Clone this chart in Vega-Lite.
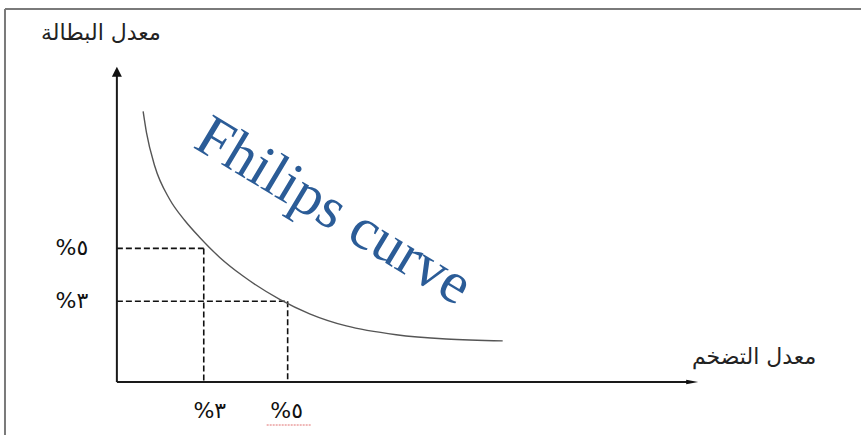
{
  "$schema": "https://vega.github.io/schema/vega-lite/v6.json",
  "width": 862,
  "height": 436,
  "autosize": {"type": "fit", "contains": "padding"},
  "padding": 0,
  "background": "white",
  "config": {"view": {"stroke": null}},
  "datasets": {
    "border": [
      {"x": -1.738, "y": 14.057, "x2": 18.667, "y2": 14.057},
      {"x": -1.738, "y": 14.057, "x2": -1.738, "y2": -2.057}
    ],
    "axes": [
      {"x": 0.929, "y": -0.057, "x2": 0.929, "y2": 11.57},
      {"x": 0.929, "y": -0.057, "x2": 14.60, "y2": -0.057}
    ],
    "dashes": [
      {"x": 0.929, "y": 5, "x2": 3, "y2": 5},
      {"x": 3, "y": 5, "x2": 3, "y2": -0.057},
      {"x": 0.929, "y": 3, "x2": 5, "y2": 3},
      {"x": 5, "y": 3, "x2": 5, "y2": -0.057}
    ],
    "squiggle": [
      {"x": 4.5, "y": -1.679, "x2": 5.571, "y2": -1.679}
    ],
    "curve": [
      {"inflation": 1.555, "unemployment": 10.181},
      {"inflation": 1.636, "unemployment": 9.366},
      {"inflation": 1.833, "unemployment": 8.106},
      {"inflation": 2.190, "unemployment": 6.849},
      {"inflation": 2.548, "unemployment": 6.057},
      {"inflation": 2.905, "unemployment": 5.415},
      {"inflation": 3.381, "unemployment": 4.660},
      {"inflation": 3.936, "unemployment": 3.955},
      {"inflation": 4.810, "unemployment": 3.075},
      {"inflation": 5.524, "unemployment": 2.528},
      {"inflation": 6.398, "unemployment": 2.068},
      {"inflation": 7.588, "unemployment": 1.736},
      {"inflation": 8.779, "unemployment": 1.574},
      {"inflation": 10.126, "unemployment": 1.502}
    ],
    "arrowUp": [{"x": 0.929, "y": 11.679}],
    "arrowRight": [{"x": 14.643, "y": -0.057}],
    "labels": [
      {"x": -0.143, "y": 5, "text": "%٥"},
      {"x": -0.143, "y": 3, "text": "%٣"},
      {"x": 3.143, "y": -1.151, "text": "%٣"},
      {"x": 4.976, "y": -1.151, "text": "%٥"}
    ],
    "titles": [
      {"x": 0.548, "y": 13.151, "text": "معدل البطالة"},
      {"x": 16.119, "y": 0.887, "text": "معدل التضخم"}
    ],
    "curveLabel": [{"x": 5.88, "y": 5.83, "text": "Fhilips curve"}]
  },
  "layer": [
    {
      "data": {"name": "border"},
      "mark": {"type": "rule", "stroke": "#7a7a7a", "strokeWidth": 2},
      "encoding": {
        "x": {"field": "x", "type": "quantitative", "scale": {"domain": [-1.857, 18.667], "nice": false, "zero": false}, "axis": null},
        "y": {"field": "y", "type": "quantitative", "scale": {"domain": [-2.057, 14.396], "nice": false, "zero": false}, "axis": null},
        "x2": {"field": "x2"},
        "y2": {"field": "y2"}
      }
    },
    {
      "data": {"name": "dashes"},
      "mark": {"type": "rule", "stroke": "#111111", "strokeWidth": 1.6, "strokeDash": [6, 3]},
      "encoding": {
        "x": {"field": "x", "type": "quantitative"},
        "y": {"field": "y", "type": "quantitative"},
        "x2": {"field": "x2"},
        "y2": {"field": "y2"}
      }
    },
    {
      "data": {"name": "squiggle"},
      "mark": {"type": "rule", "stroke": "#e07070", "strokeWidth": 1, "strokeDash": [2, 1]},
      "encoding": {
        "x": {"field": "x", "type": "quantitative"},
        "y": {"field": "y", "type": "quantitative"},
        "x2": {"field": "x2"},
        "y2": {"field": "y2"}
      }
    },
    {
      "data": {"name": "axes"},
      "mark": {"type": "rule", "stroke": "#1a1a1a", "strokeWidth": 2},
      "encoding": {
        "x": {"field": "x", "type": "quantitative"},
        "y": {"field": "y", "type": "quantitative"},
        "x2": {"field": "x2"},
        "y2": {"field": "y2"}
      }
    },
    {
      "data": {"name": "arrowUp"},
      "mark": {"type": "point", "shape": "M -1 1 L 0 -1 L 1 1 Z", "size": 100, "filled": true, "color": "#111111", "opacity": 1},
      "encoding": {
        "x": {"field": "x", "type": "quantitative"},
        "y": {"field": "y", "type": "quantitative"}
      }
    },
    {
      "data": {"name": "arrowRight"},
      "mark": {"type": "point", "shape": "M -1 -0.375 L 1 0 L -1 0.375 Z", "size": 144, "filled": true, "color": "#111111", "opacity": 1},
      "encoding": {
        "x": {"field": "x", "type": "quantitative"},
        "y": {"field": "y", "type": "quantitative"}
      }
    },
    {
      "data": {"name": "curve"},
      "mark": {"type": "line", "stroke": "#555555", "strokeWidth": 1.4, "interpolate": "monotone"},
      "encoding": {
        "x": {"field": "inflation", "type": "quantitative"},
        "y": {"field": "unemployment", "type": "quantitative"}
      }
    },
    {
      "data": {"name": "labels"},
      "mark": {"type": "text", "font": "DejaVu Sans", "fontSize": 22, "color": "#111111", "align": "center", "baseline": "middle"},
      "encoding": {
        "x": {"field": "x", "type": "quantitative"},
        "y": {"field": "y", "type": "quantitative"},
        "text": {"field": "text"}
      }
    },
    {
      "data": {"name": "titles"},
      "mark": {"type": "text", "font": "DejaVu Sans", "fontSize": 22, "color": "#222222", "align": "center", "baseline": "middle"},
      "encoding": {
        "x": {"field": "x", "type": "quantitative"},
        "y": {"field": "y", "type": "quantitative"},
        "text": {"field": "text"}
      }
    },
    {
      "data": {"name": "curveLabel"},
      "mark": {"type": "text", "font": "Liberation Serif", "fontSize": 59, "color": "#2b5c97", "align": "center", "baseline": "alphabetic", "angle": 31},
      "encoding": {
        "x": {"field": "x", "type": "quantitative"},
        "y": {"field": "y", "type": "quantitative"},
        "text": {"field": "text"}
      }
    }
  ]
}
